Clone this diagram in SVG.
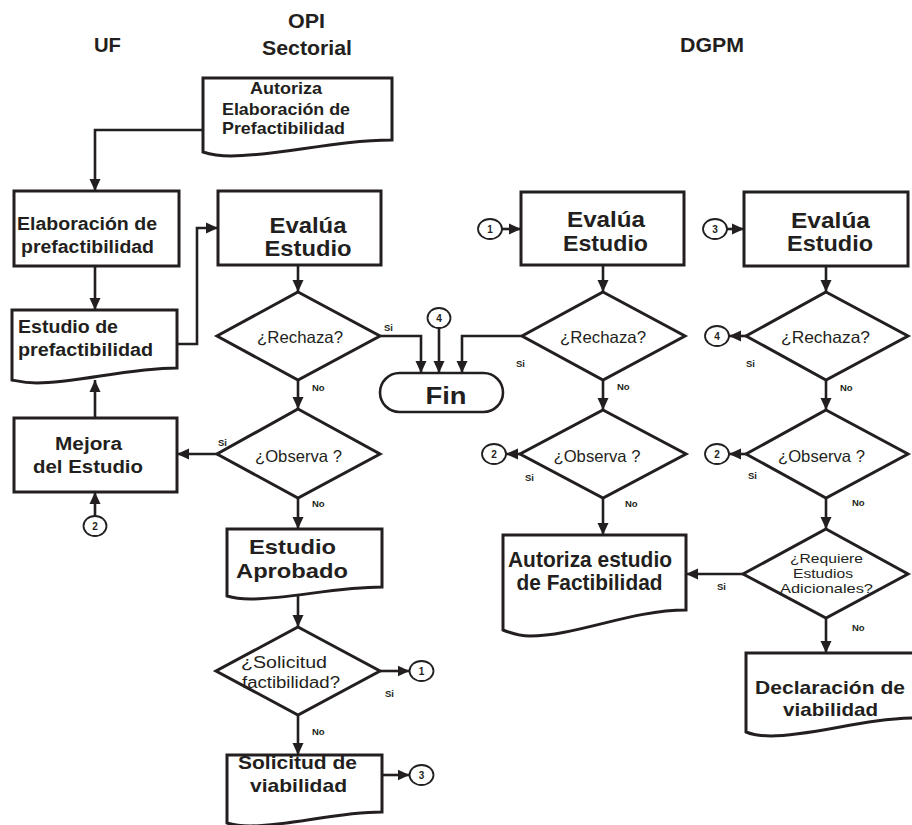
<svg xmlns="http://www.w3.org/2000/svg" width="912" height="825" viewBox="0 0 912 825">
<defs>
<marker id="ah" markerUnits="userSpaceOnUse" markerWidth="12" markerHeight="12" viewBox="0 0 12 12" refX="12" refY="6" orient="auto"><path d="M0,0.5 L12,6 L0,11.5 z" fill="#231f20"/></marker>
<style>
.shape{fill:#fff;stroke:#231f20;stroke-width:3}
.circ{fill:#fff;stroke:#231f20;stroke-width:1.8}
.con{fill:none;stroke:#231f20;stroke-width:2.6;marker-end:url(#ah)}
text{font-family:"Liberation Sans",Arial,Helvetica,sans-serif;fill:#231f20}
.hd{font-size:20px;font-weight:bold;text-anchor:middle}
.b{font-weight:bold;text-anchor:middle}
.r{font-weight:normal;text-anchor:middle}
.lbl{font-size:9.5px;font-weight:bold}
.num{font-size:10px;font-weight:bold;text-anchor:middle}
</style>
</defs>
<rect width="912" height="825" fill="#fff"/>

<g id="headers">
<text class="hd" x="107.5" y="52" textLength="27" lengthAdjust="spacingAndGlyphs">UF</text>
<text class="hd" x="306.5" y="28" textLength="37" lengthAdjust="spacingAndGlyphs">OPI</text>
<text class="hd" x="307" y="55" textLength="90" lengthAdjust="spacingAndGlyphs">Sectorial</text>
<text class="hd" x="712" y="52" textLength="64" lengthAdjust="spacingAndGlyphs">DGPM</text>
</g>

<g id="connectors">
<path class="con" d="M203,130 H95 V191"/>
<path class="con" d="M95,266 V310"/>
<path class="con" d="M177,344 H197 V228 H218"/>
<path class="con" d="M95,418 V380"/>
<path class="con" d="M95,516 V492"/>
<path class="con" d="M298,265 V292"/>
<path class="con" d="M380,336 H421 V373"/>
<path class="con" d="M439,328 V373"/>
<path class="con" d="M522,336 H462 V373"/>
<path class="con" d="M298,380 V409"/>
<path class="con" d="M217,454 H177"/>
<path class="con" d="M298,498 V529"/>
<path class="con" d="M298,592 V627"/>
<path class="con" d="M380,671 H409.5"/>
<path class="con" d="M298,715 V755"/>
<path class="con" d="M382,775 H409.5"/>
<path class="con" d="M502,229 H521"/>
<path class="con" d="M603,265 V292"/>
<path class="con" d="M603,380 V410"/>
<path class="con" d="M520,454 H506"/>
<path class="con" d="M603,498 V535"/>
<path class="con" d="M727,229 H744"/>
<path class="con" d="M826,266 V292"/>
<path class="con" d="M746,336 H729"/>
<path class="con" d="M826,380 V410"/>
<path class="con" d="M746,454 H729"/>
<path class="con" d="M826,498 V529"/>
<path class="con" d="M743,574 H686"/>
<path class="con" d="M826,618 V653"/>
<text class="lbl" x="384" y="331">Si</text>
<text class="lbl" x="218" y="446">Si</text>
<text class="lbl" x="385" y="697">Si</text>
<text class="lbl" x="516" y="367">Si</text>
<text class="lbl" x="525" y="481">Si</text>
<text class="lbl" x="746" y="367">Si</text>
<text class="lbl" x="748" y="479">Si</text>
<text class="lbl" x="717" y="590">Si</text>
<text class="lbl" x="312" y="391">No</text>
<text class="lbl" x="312" y="507">No</text>
<text class="lbl" x="312" y="735">No</text>
<text class="lbl" x="617" y="390">No</text>
<text class="lbl" x="625" y="507">No</text>
<text class="lbl" x="840" y="391">No</text>
<text class="lbl" x="852" y="506">No</text>
<text class="lbl" x="852" y="631">No</text>
</g>

<g id="autoriza-prefact">
<path class="shape" d="M203,78 H392 V140 C335,140 279,156 231,156 C218,156 209,154 203,152 Z"/>
<text class="b" font-size="16.5" x="286" y="94" textLength="72" lengthAdjust="spacingAndGlyphs">Autoriza</text>
<text class="b" font-size="16.5" x="286" y="115" textLength="128" lengthAdjust="spacingAndGlyphs">Elaboración de</text>
<text class="b" font-size="16.5" x="283.5" y="134" textLength="123" lengthAdjust="spacingAndGlyphs">Prefactibilidad</text>
</g>

<g id="elaboracion">
<rect class="shape" x="14" y="191" width="165" height="75"/>
<text class="b" font-size="17.5" x="87" y="230" textLength="140" lengthAdjust="spacingAndGlyphs">Elaboración de</text>
<text class="b" font-size="17.5" x="87.5" y="253" textLength="133" lengthAdjust="spacingAndGlyphs">prefactibilidad</text>
</g>

<g id="estudio-prefact">
<path class="shape" d="M12,310 H177 V368 C127,368 78,383 37,383 C25,383 17,381 12,380 Z"/>
<text class="b" font-size="17.5" x="68" y="333" textLength="100" lengthAdjust="spacingAndGlyphs">Estudio de</text>
<text class="b" font-size="17.5" x="85.5" y="356" textLength="135" lengthAdjust="spacingAndGlyphs">prefactibilidad</text>
</g>

<g id="mejora">
<rect class="shape" x="14" y="418" width="163" height="74"/>
<text class="b" font-size="17.5" x="88.5" y="450" textLength="67" lengthAdjust="spacingAndGlyphs">Mejora</text>
<text class="b" font-size="17.5" x="88" y="473" textLength="110" lengthAdjust="spacingAndGlyphs">del Estudio</text>
</g>

<g id="opi-evalua">
<rect class="shape" x="218" y="191" width="163" height="74"/>
<text class="b" font-size="22" x="308" y="233" textLength="77" lengthAdjust="spacingAndGlyphs">Evalúa</text>
<text class="b" font-size="22" x="308" y="256" textLength="87" lengthAdjust="spacingAndGlyphs">Estudio</text>
</g>

<g id="opi-rechaza">
<polygon class="shape" points="298,292 380,336 298,380 217,336"/>
<text class="r" font-size="16.5" x="300" y="343" textLength="86" lengthAdjust="spacingAndGlyphs">¿Rechaza?</text>
</g>

<g id="opi-observa">
<polygon class="shape" points="298,409 380,454 298,498 217,454"/>
<text class="r" font-size="16.5" x="298.5" y="462" textLength="87" lengthAdjust="spacingAndGlyphs">¿Observa ?</text>
</g>

<g id="estudio-aprobado">
<path class="shape" d="M227,529 H382 V587 C336,587 289,599 250,599 C239,599 232,597.5 227,596 Z"/>
<text class="b" font-size="20.5" x="292.5" y="554" textLength="87" lengthAdjust="spacingAndGlyphs">Estudio</text>
<text class="b" font-size="20.5" x="292" y="578" textLength="112" lengthAdjust="spacingAndGlyphs">Aprobado</text>
</g>

<g id="opi-solicitud">
<polygon class="shape" points="298,627 380,671 298,715 216,671"/>
<text class="r" font-size="16" x="284" y="668" textLength="86" lengthAdjust="spacingAndGlyphs">¿Solicitud</text>
<text class="r" font-size="16" x="291" y="688" textLength="98" lengthAdjust="spacingAndGlyphs">factibilidad?</text>
</g>

<g id="solicitud-viabilidad">
<path class="shape" d="M227,755 H382 V812 C336,812 289,826 250,826 C239,826 232,824.5 227,823 Z"/>
<text class="b" font-size="18.5" x="297.5" y="769" textLength="119" lengthAdjust="spacingAndGlyphs">Solicitud de</text>
<text class="b" font-size="18.5" x="298.5" y="792" textLength="97" lengthAdjust="spacingAndGlyphs">viabilidad</text>
</g>

<g id="fin">
<rect class="shape" x="380" y="373" width="123" height="39" rx="19.5" ry="19.5" style="stroke-width:2.6"/>
<text class="b" font-size="24" x="446" y="404" textLength="41" lengthAdjust="spacingAndGlyphs">Fin</text>
</g>

<g id="dgpm1-evalua">
<rect class="shape" x="521" y="192" width="163" height="73"/>
<text class="b" font-size="22" x="606" y="227" textLength="78" lengthAdjust="spacingAndGlyphs">Evalúa</text>
<text class="b" font-size="22" x="605.5" y="251" textLength="85" lengthAdjust="spacingAndGlyphs">Estudio</text>
</g>

<g id="dgpm1-rechaza">
<polygon class="shape" points="603,292 685,336 603,380 522,336"/>
<text class="r" font-size="16.5" x="603" y="343" textLength="86" lengthAdjust="spacingAndGlyphs">¿Rechaza?</text>
</g>

<g id="dgpm1-observa">
<polygon class="shape" points="603,410 686,454 603,498 520,454"/>
<text class="r" font-size="16.5" x="597" y="462" textLength="87" lengthAdjust="spacingAndGlyphs">¿Observa ?</text>
</g>

<g id="autoriza-factibilidad">
<path class="shape" d="M503,535 H686 V610 C631,610 576,636 530,636 C518,636 508,632 503,630 Z"/>
<text class="b" font-size="21.5" x="590" y="567" textLength="164" lengthAdjust="spacingAndGlyphs">Autoriza estudio</text>
<text class="b" font-size="21.5" x="589.5" y="590" textLength="146" lengthAdjust="spacingAndGlyphs">de Factibilidad</text>
</g>

<g id="dgpm2-evalua">
<rect class="shape" x="744" y="192" width="164" height="74"/>
<text class="b" font-size="22" x="830.5" y="228" textLength="79" lengthAdjust="spacingAndGlyphs">Evalúa</text>
<text class="b" font-size="22" x="830" y="251" textLength="86" lengthAdjust="spacingAndGlyphs">Estudio</text>
</g>

<g id="dgpm2-rechaza">
<polygon class="shape" points="826,292 908,336 826,380 746,336"/>
<text class="r" font-size="16.5" x="825.5" y="343" textLength="89" lengthAdjust="spacingAndGlyphs">¿Rechaza?</text>
</g>

<g id="dgpm2-observa">
<polygon class="shape" points="826,410 908,454 826,498 746,454"/>
<text class="r" font-size="16.5" x="821.5" y="462" textLength="87" lengthAdjust="spacingAndGlyphs">¿Observa ?</text>
</g>

<g id="requiere">
<polygon class="shape" points="826,529 908,574 826,618 743,574"/>
<text class="r" font-size="13" x="826.5" y="563" textLength="73" lengthAdjust="spacingAndGlyphs">¿Requiere</text>
<text class="r" font-size="13" x="823" y="578" textLength="60" lengthAdjust="spacingAndGlyphs">Estudios</text>
<text class="r" font-size="13" x="826.5" y="593" textLength="93" lengthAdjust="spacingAndGlyphs">Adicionales?</text>
</g>

<g id="declaracion">
<path class="shape" d="M746,653 H916 V718 C865,718 814,736 771,736 C759,736 751,734 746,732 Z"/>
<text class="b" font-size="19" x="830" y="694" textLength="150" lengthAdjust="spacingAndGlyphs">Declaración de</text>
<text class="b" font-size="19" x="830.5" y="716" textLength="95" lengthAdjust="spacingAndGlyphs">viabilidad</text>
</g>

<g id="con-uf-2"><ellipse class="circ" cx="95" cy="526" rx="11.5" ry="10"/><text class="num" x="95" y="529.5">2</text></g>
<g id="con-fin-4"><ellipse class="circ" cx="439" cy="318" rx="11.5" ry="10"/><text class="num" x="439" y="321.5">4</text></g>
<g id="con-opi-1"><ellipse class="circ" cx="421.5" cy="671" rx="12" ry="10"/><text class="num" x="421.5" y="674.5">1</text></g>
<g id="con-opi-3"><ellipse class="circ" cx="421.5" cy="775" rx="12" ry="10"/><text class="num" x="421.5" y="778.5">3</text></g>
<g id="con-d1-1"><ellipse class="circ" cx="490" cy="229" rx="12" ry="10"/><text class="num" x="490" y="232.5">1</text></g>
<g id="con-d1-2"><ellipse class="circ" cx="494" cy="454" rx="12" ry="10"/><text class="num" x="494" y="457.5">2</text></g>
<g id="con-d2-3"><ellipse class="circ" cx="715" cy="229" rx="12" ry="10"/><text class="num" x="715" y="232.5">3</text></g>
<g id="con-d2-4"><ellipse class="circ" cx="717" cy="336" rx="12" ry="10"/><text class="num" x="717" y="339.5">4</text></g>
<g id="con-d2-2"><ellipse class="circ" cx="717" cy="454" rx="12" ry="10"/><text class="num" x="717" y="457.5">2</text></g>
</svg>
